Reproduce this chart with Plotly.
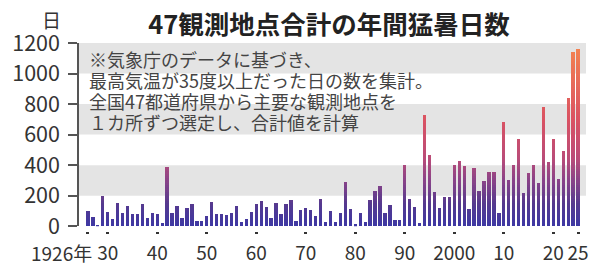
import numpy as np
import plotly.graph_objects as go
from plotly.colors import sample_colorscale

# ---------------- data ----------------
years = list(range(1926, 2026))
days = [
    100, 60, 5, 195, 90, 45, 150, 82, 135, 78,          # 1926-1935
    78, 139, 57, 86, 76, 19, 390, 84, 135, 57,          # 1936-1945
    116, 148, 32, 32, 63, 158, 76, 76, 72, 86,          # 1946-1955
    135, 25, 44, 91, 141, 162, 125, 57, 152, 78,        # 1956-1965
    148, 173, 32, 105, 116, 103, 63, 177, 30, 99,       # 1966-1975
    27, 84, 289, 114, 13, 84, 25, 172, 226, 266,        # 1976-1985
    89, 137, 36, 36, 403, 175, 122, 17, 728, 466,       # 1986-1995
    222, 118, 192, 190, 399, 426, 392, 108, 379, 228,   # 1996-2005
    294, 350, 350, 83, 683, 300, 403, 570, 213, 347,    # 2006-2015
    403, 283, 780, 418, 570, 306, 495, 840, 1140, 1160, # 2016-2025
]
x_tickvals = [1926, 1930, 1940, 1950, 1960, 1970, 1980, 1990, 2000, 2010, 2020, 2025]
x_ticktext = ["", "30", "40", "50", "60", "70", "80", "90", "2000", "10", "20", "25"]
y_tickvals = [0, 200, 400, 600, 800, 1000, 1200]
bands = [(200, 400), (600, 800), (1000, 1200)]

title = "47観測地点合計の年間猛暑日数"
unit = "日"
start_label = "1926年"
note_lines = [
    "※気象庁のデータに基づき、",
    "最高気温が35度以上だった日の数を集計。",
    "全国47都道府県から主要な観測地点を",
    "１カ所ずつ選定し、合計値を計算",
]

# ---------------- styling ----------------
YMAX = 1200
STEP = 15
cscale = [
    [0.0, "#3d38a4"],
    [150 / YMAX, "#56398e"],
    [300 / YMAX, "#8a4388"],
    [450 / YMAX, "#bb4c78"],
    [700 / YMAX, "#da5262"],
    [1.0, "#f5854f"],
]
CJK = "Noto Sans CJK JP"

fig = go.Figure()
vals = np.array(days, dtype=float)
for lo in np.arange(0, YMAX, STEP):
    seg = np.clip(vals - lo, 0, STEP)
    col = sample_colorscale(cscale, [(lo + STEP / 2) / YMAX])[0]
    fig.add_trace(go.Bar(
        x=years, y=seg, marker=dict(color=col, line=dict(width=0)),
        hoverinfo="skip", showlegend=False,
    ))

W, H = 600, 277
ml, mr, mt, mb = 71, 12, 43, 38
plot_w = W - ml - mr
plot_h = H - mt - mb
y_dom0 = 5 / plot_h


def px_to_paper_y(py):
    return 1 - (py - mt) / plot_h


shapes = []
for b0, b1 in bands:
    shapes.append(dict(type="rect", xref="paper", x0=0, x1=1, yref="y", y0=b0, y1=b1,
                       fillcolor="#e4e4e4", line=dict(width=0), layer="below"))

annotations = [
    dict(text=unit, xref="paper", yref="paper", x=(43 - ml) / plot_w,
         y=px_to_paper_y(19), xanchor="center", yanchor="middle", showarrow=False,
         font=dict(family=CJK, size=19, color="#333")),
    dict(text=start_label, xref="x", yref="paper", x=1927.2, y=px_to_paper_y(261),
         xanchor="right", yanchor="middle", showarrow=False,
         font=dict(family=CJK, size=19, color="#333")),
]
line_centers = [60, 82, 103.5, 125]
for txt, cy in zip(note_lines, line_centers):
    annotations.append(dict(
        text=txt, xref="paper", yref="paper", x=(79 - ml) / plot_w, y=px_to_paper_y(cy),
        xanchor="left", yanchor="middle", align="left", showarrow=False,
        font=dict(family=CJK, size=18, color="#444")))

fig.update_layout(
    width=W, height=H,
    margin=dict(l=ml, r=mr, t=mt, b=mb, pad=0),
    barmode="stack", bargap=0.33,
    plot_bgcolor="white", paper_bgcolor="white",
    showlegend=False,
    title=dict(text="<b>" + title + "</b>", x=329 / W, xanchor="center",
               y=1 - 25 / H, yanchor="middle",
               font=dict(family=CJK, size=25.5, color="#222")),
    xaxis=dict(range=[1924.2, 2026.6], tickvals=x_tickvals, ticktext=x_ticktext,
               ticks="outside", ticklen=2, tickwidth=3, tickcolor="#333",
               showgrid=False, zeroline=False, showline=False,
               anchor="free", position=0, ticklabelstandoff=3,
               tickfont=dict(family=CJK, size=19, color="#333")),
    yaxis=dict(range=[0, YMAX], domain=[y_dom0, 1], tickvals=y_tickvals,
               ticks="outside", ticklen=9, tickwidth=1.5, tickcolor="#555",
               showline=True, linecolor="#555", linewidth=1.5,
               showgrid=False, zeroline=False, ticklabelstandoff=4,
               tickfont=dict(family=CJK, size=21.5, color="#333")),
    shapes=shapes, annotations=annotations,
)

fig.write_html("out.html")
